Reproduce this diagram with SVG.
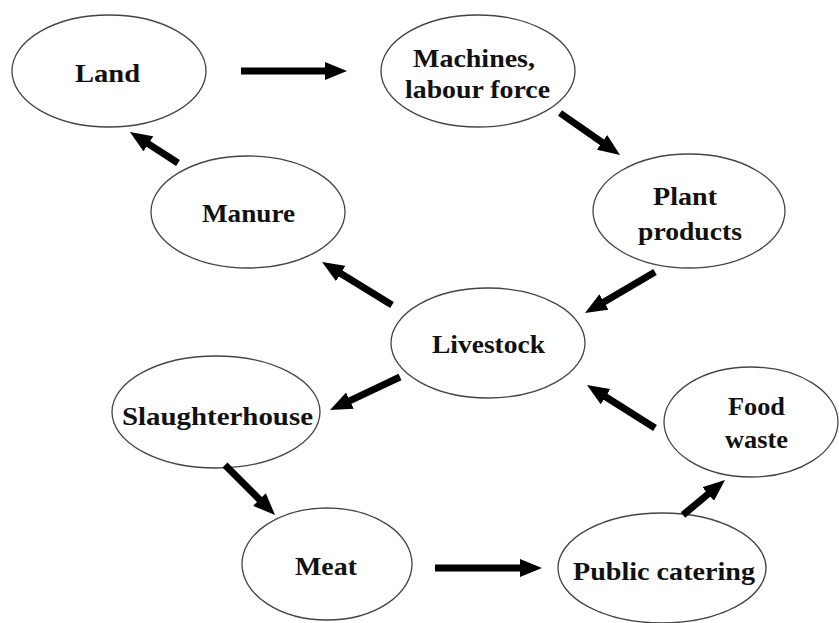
<svg xmlns="http://www.w3.org/2000/svg" width="839" height="623" viewBox="0 0 839 623">
<style>
.n{fill:#fff;stroke:#444;stroke-width:1.3}
.t{font-family:"Liberation Serif","Times New Roman",serif;font-weight:bold;font-size:26px;fill:#111;text-anchor:middle}
.a{stroke:#000;stroke-width:7;fill:none;marker-end:url(#ah)}
</style>
<defs>
<marker id="ah" markerUnits="userSpaceOnUse" markerWidth="22" markerHeight="18" viewBox="0 0 22 18" refX="1" refY="9" orient="auto">
<path d="M0,0 L22,9 L0,18 z" fill="#000"/>
</marker>
</defs>
<rect width="839" height="623" fill="#fff"/>
<g id="land"><ellipse class="n" cx="109" cy="71" rx="97" ry="56"/><text class="t" x="107.5" y="82" textLength="65" lengthAdjust="spacingAndGlyphs">Land</text></g>
<g id="machines"><ellipse class="n" cx="478" cy="71" rx="97" ry="56"/><text class="t" x="474" y="67" textLength="122" lengthAdjust="spacingAndGlyphs">Machines,</text><text class="t" x="477.5" y="98" textLength="145" lengthAdjust="spacingAndGlyphs">labour force</text></g>
<g id="plant"><ellipse class="n" cx="689" cy="211" rx="96" ry="57"/><text class="t" x="685" y="205" textLength="64" lengthAdjust="spacingAndGlyphs">Plant</text><text class="t" x="690" y="240" textLength="104" lengthAdjust="spacingAndGlyphs">products</text></g>
<g id="manure"><ellipse class="n" cx="248" cy="212" rx="97" ry="56"/><text class="t" x="248.5" y="222" textLength="93" lengthAdjust="spacingAndGlyphs">Manure</text></g>
<g id="livestock"><ellipse class="n" cx="488" cy="343" rx="97" ry="55"/><text class="t" x="488.5" y="353" textLength="113" lengthAdjust="spacingAndGlyphs">Livestock</text></g>
<g id="slaughterhouse"><ellipse class="n" cx="216" cy="412" rx="104" ry="56"/><text class="t" x="217.5" y="425" textLength="191" lengthAdjust="spacingAndGlyphs">Slaughterhouse</text></g>
<g id="meat"><ellipse class="n" cx="327" cy="564" rx="85" ry="56"/><text class="t" x="326" y="575" textLength="62" lengthAdjust="spacingAndGlyphs">Meat</text></g>
<g id="foodwaste"><ellipse class="n" cx="751" cy="422" rx="87" ry="55"/><text class="t" x="756.5" y="415" textLength="57" lengthAdjust="spacingAndGlyphs">Food</text><text class="t" x="756.5" y="448" textLength="63" lengthAdjust="spacingAndGlyphs">waste</text></g>
<g id="catering"><ellipse class="n" cx="662" cy="568" rx="104" ry="55"/><text class="t" x="664" y="580" textLength="182" lengthAdjust="spacingAndGlyphs">Public catering</text></g>
<g id="connectors">
<line class="a" x1="241" y1="71" x2="326" y2="71"/>
<line class="a" x1="560" y1="113" x2="602.8" y2="142.9"/>
<line class="a" x1="655" y1="272" x2="603.1" y2="302.4"/>
<line class="a" x1="392" y1="305" x2="339.9" y2="273"/>
<line class="a" x1="178" y1="163" x2="147.6" y2="143.4"/>
<line class="a" x1="400" y1="377" x2="349" y2="401.1"/>
<line class="a" x1="225" y1="465" x2="260.2" y2="500.2"/>
<line class="a" x1="435" y1="568" x2="521" y2="568"/>
<line class="a" x1="683" y1="515" x2="708.9" y2="493.4"/>
<line class="a" x1="655" y1="428" x2="604.7" y2="396.2"/>
</g>
</svg>
